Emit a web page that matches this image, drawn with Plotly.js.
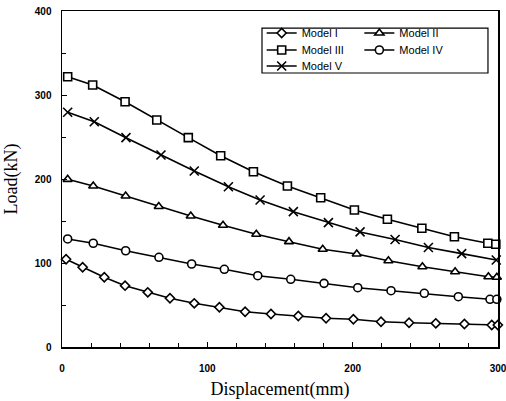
<!DOCTYPE html>
<html>
<head>
<meta charset="utf-8">
<script src="https://cdn.plot.ly/plotly-3.0.1.min.js"></script>
<style>html,body{margin:0;padding:0;background:#fff;}</style>
</head>
<body>
<div id="chart" style="width:506px;height:401px;"></div>
<script>
// Data
const xModelI   = [2.8, 14.2, 29.1, 43.4, 59.0, 74.3, 91.0, 108.3, 126.0, 143.8, 162.6, 181.7, 200.5, 219.5, 238.8, 257.2, 276.9, 295.7, 299.9];
const yModelI   = [104.4, 94.9, 83.0, 73.0, 65.1, 58.0, 52.0, 47.3, 42.0, 39.3, 36.9, 34.2, 33.0, 30.1, 28.9, 28.2, 27.4, 26.2, 26.2];

const xModelII  = [3.9, 21.5, 43.8, 66.6, 88.6, 110.8, 133.7, 156.2, 179.4, 202.8, 224.6, 248.0, 270.5, 293.4, 299.2];
const yModelII  = [199.6, 191.7, 179.8, 167.3, 156.0, 144.9, 134.2, 125.4, 116.3, 110.7, 102.7, 95.6, 89.6, 83.7, 83.0];

const xModelIII = [3.9, 21.1, 43.4, 65.2, 86.9, 109.2, 131.7, 155.1, 178.0, 201.2, 223.9, 247.6, 270.0, 293.0, 298.5];
const yModelIII = [321.8, 311.9, 292.0, 270.2, 249.2, 227.7, 208.7, 191.7, 177.7, 163.1, 152.0, 141.3, 131.3, 123.5, 122.3];

const xModelIV  = [3.9, 21.5, 43.8, 66.7, 89.2, 111.7, 134.7, 157.4, 180.3, 203.5, 226.4, 249.3, 272.7, 294.5, 299.2];
const yModelIV  = [128.6, 123.5, 114.6, 106.8, 98.8, 92.5, 84.9, 80.6, 75.8, 70.6, 67.0, 63.9, 59.9, 56.8, 56.8];

const xModelV   = [3.9, 22.2, 44.0, 68.1, 91.0, 114.5, 136.3, 159.2, 183.3, 205.1, 229.2, 252.1, 275.0, 298.8];
const yModelV   = [279.4, 268.2, 249.2, 228.6, 209.5, 190.8, 175.0, 161.1, 148.0, 137.0, 128.0, 118.5, 111.2, 103.6];

const seriesNames = ['Model I', 'Model II', 'Model III', 'Model IV', 'Model V'];
const xTickVals = [0, 100, 200, 300];
const yTickVals = [0, 100, 200, 300, 400];

function tr(name, x, y, symbol, size, legend, fill) {
  return {
    type: 'scatter', mode: 'lines+markers', name: name, x: x, y: y,
    legend: legend, cliponaxis: false,
    line: {color: '#000', width: 1.6},
    marker: {symbol: symbol, size: size, color: fill, line: {color: '#000', width: 1.6}}
  };
}

const data = [
  tr(seriesNames[0], xModelI, yModelI, 'diamond', 7, 'legend', '#fff'),
  tr(seriesNames[1], xModelII, yModelII, 'triangle-up', 8, 'legend2', '#fff'),
  tr(seriesNames[2], xModelIII, yModelIII, 'square', 8, 'legend3', '#fff'),
  tr(seriesNames[3], xModelIV, yModelIV, 'circle', 8, 'legend4', '#fff'),
  tr(seriesNames[4], xModelV, yModelV, 'x-thin-open', 9, 'legend5', '#000')
];

const tickFont = {family: 'Liberation Sans, Arial, sans-serif', size: 10, color: '#000', weight: 'bold'};
const legFont = {family: 'Liberation Sans, Arial, sans-serif', size: 11, color: '#000'};

function leg(x, yPix) {
  return {
    x: x, y: (347 - yPix) / 336, xanchor: 'left', yanchor: 'middle',
    bgcolor: 'rgba(0,0,0,0)', borderwidth: 0,
    font: legFont, itemwidth: 30, tracegroupgap: 0
  };
}

const layout = {
  width: 506, height: 401,
  margin: {l: 62, r: 8, t: 11, b: 54},
  paper_bgcolor: '#fff', plot_bgcolor: '#fff',
  showlegend: true,
  xaxis: {
    range: [0, 300], tickmode: 'linear', tick0: xTickVals[0], dtick: xTickVals[1] - xTickVals[0],
    ticks: 'inside', ticklen: 5, tickwidth: 1, tickcolor: '#000',
    minor: {dtick: 20, tick0: 0, ticks: 'inside', ticklen: 4, tickwidth: 1, tickcolor: '#000', showgrid: false},
    showline: true, linecolor: '#000', linewidth: 1.5, mirror: true,
    showgrid: false, zeroline: false, ticklabeloverflow: 'allow', ticklabelstandoff: 11,
    tickfont: tickFont,
    title: {text: 'Displacement(mm)', font: {family: 'Liberation Serif, Times New Roman, serif', size: 18, color: '#000'}, standoff: 10}
  },
  yaxis: {
    range: [0, 400], tickmode: 'linear', tick0: yTickVals[0], dtick: yTickVals[1] - yTickVals[0],
    ticks: 'inside', ticklen: 5, tickwidth: 1, tickcolor: '#000',
    minor: {dtick: 50, tick0: 0, ticks: 'inside', ticklen: 4, tickwidth: 1, tickcolor: '#000', showgrid: false},
    showline: true, linecolor: '#000', linewidth: 1.5, mirror: true,
    showgrid: false, zeroline: false, ticklabeloverflow: 'allow', ticklabelstandoff: 7,
    tickfont: tickFont,
    title: {text: 'Load(kN)', font: {family: 'Liberation Serif, Times New Roman, serif', size: 18, color: '#000'}, standoff: 12}
  },
  legend:  leg(0.458, 33),
  legend2: leg(0.682, 33),
  legend3: leg(0.458, 50),
  legend4: leg(0.682, 50),
  legend5: leg(0.458, 66),
  shapes: [{
    type: 'rect', xref: 'paper', yref: 'paper',
    x0: 0.4587, x1: 0.977, y0: 0.8155, y1: 0.949,
    line: {color: '#000', width: 1.2}, fillcolor: 'rgba(0,0,0,0)'
  }]
};

Plotly.newPlot('chart', data, layout, {displayModeBar: false, staticPlot: true});
</script>
</body>
</html>
